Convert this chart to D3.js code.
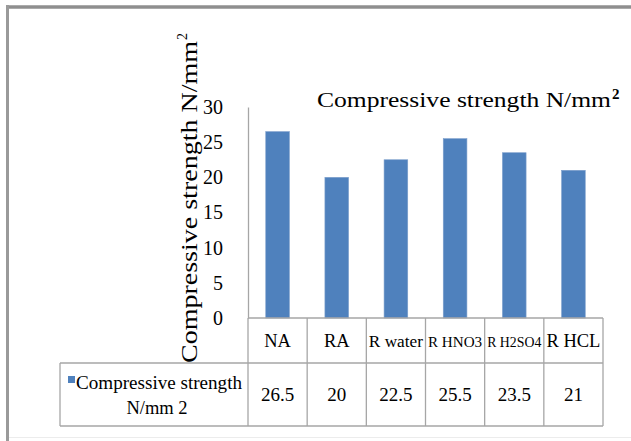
<!DOCTYPE html>
<html>
<head>
<meta charset="utf-8">
<script src="https://cdn.jsdelivr.net/npm/d3@7"></script>
<style>
  html, body { margin: 0; padding: 0; background: #fff; }
  svg text { font-family: "Liberation Serif", "Times New Roman", serif; fill: #000; }
</style>
</head>
<body>
<svg id="chart" width="631" height="441"></svg>
<script>
// ---- data ----
const categories = ["NA", "RA", "R water", "R HNO3", "R H2SO4", "R HCL"];
const values = [26.5, 20, 22.5, 25.5, 23.5, 21];
const valueLabels = ["26.5", "20", "22.5", "25.5", "23.5", "21"];
const yTicks = [0, 5, 10, 15, 20, 25, 30];
const seriesName = ["Compressive strength", "N/mm 2"];
const titleText = "Compressive strength N/mm";
const yTitleText = "Compressive strength N/mm";

const svg = d3.select("#chart");
const barColor = "#4f81bd";
const gridGray = "#a6a6a6";

// frame
svg.append("rect").attr("x", 0).attr("y", 0).attr("width", 631).attr("height", 441).attr("fill", "#fff");
svg.append("line").attr("x1", 6).attr("x2", 631).attr("y1", 7).attr("y2", 7)
  .attr("stroke", "#8f8f8f").attr("stroke-width", 3.5);
svg.append("line").attr("x1", 7.5).attr("x2", 7.5).attr("y1", 5).attr("y2", 441)
  .attr("stroke", "#9a9a9a").attr("stroke-width", 3);
svg.append("line").attr("x1", 9).attr("x2", 631).attr("y1", 437.5).attr("y2", 437.5)
  .attr("stroke", "#ececec").attr("stroke-width", 1);

// scales
const plotLeft = 248, plotRight = 603, zeroY = 318, topY = 107;
const x = d3.scaleBand().domain(categories).range([plotLeft, plotRight]).padding(0);
const y = d3.scaleLinear().domain([0, 30]).range([zeroY, topY]);
const barW = x.bandwidth() * 0.4;

// bars
svg.append("g").selectAll("rect").data(categories).join("rect")
  .attr("x", (d) => x(d) + (x.bandwidth() - barW) / 2)
  .attr("y", (d, i) => y(values[i]))
  .attr("width", barW)
  .attr("height", (d, i) => y(0) - y(values[i]))
  .attr("fill", barColor)
  .attr("stroke", "#7d9fcc").attr("stroke-width", 0.6);

// y axis
const yAxis = d3.axisLeft(y).tickValues(yTicks).tickSize(0).tickPadding(25).tickFormat(d3.format("d"));
const ga = svg.append("g").attr("transform", `translate(${plotLeft},0)`).call(yAxis);
ga.select(".domain").attr("stroke", gridGray).attr("stroke-width", 1.3);
ga.selectAll(".tick text").attr("font-size", 20).attr("font-family", "Liberation Serif").attr("fill", "#000");

// data table
const tbl = svg.append("g").attr("stroke", gridGray).attr("stroke-width", 1.3).attr("fill", "none");
const headTop = zeroY, headBot = 363, rowBot = 426, legLeft = 60;
tbl.append("line").attr("x1", plotLeft).attr("x2", plotRight).attr("y1", headTop).attr("y2", headTop);
tbl.append("line").attr("x1", legLeft).attr("x2", plotRight).attr("y1", headBot).attr("y2", headBot);
tbl.append("line").attr("x1", legLeft).attr("x2", plotRight).attr("y1", rowBot).attr("y2", rowBot);
tbl.append("line").attr("x1", legLeft).attr("x2", legLeft).attr("y1", headBot).attr("y2", rowBot);
const edges = categories.map((c) => x(c)).concat([plotRight]);
tbl.selectAll("line.v").data(edges).join("line").attr("class", "v")
  .attr("x1", (d) => d).attr("x2", (d) => d).attr("y1", headTop).attr("y2", rowBot);

// header labels (font reduced when wider than the cell)
const heads = svg.append("g").selectAll("text").data(categories).join("text")
  .attr("x", (d) => x(d) + x.bandwidth() / 2)
  .attr("y", 347)
  .attr("text-anchor", "middle")
  .attr("font-size", 18.5)
  .text((d) => d);
heads.each(function () {
  const w = this.getComputedTextLength();
  const maxW = x.bandwidth() - 5;
  if (w > maxW) d3.select(this).attr("font-size", 18.5 * maxW / w);
});

// values row
svg.append("g").selectAll("text").data(valueLabels).join("text")
  .attr("x", (d, i) => x(categories[i]) + x.bandwidth() / 2)
  .attr("y", 401)
  .attr("text-anchor", "middle")
  .attr("font-size", 19)
  .text((d) => d);

// legend key in table
svg.append("rect").attr("x", 68).attr("y", 376).attr("width", 7).attr("height", 7).attr("fill", barColor);
svg.append("text").attr("x", 76).attr("y", 389).attr("font-size", 18.5)
  .attr("textLength", 166).attr("lengthAdjust", "spacingAndGlyphs").text(seriesName[0]);
svg.append("text").attr("x", 157).attr("y", 414).attr("font-size", 18.5)
  .attr("text-anchor", "middle").text(seriesName[1]);

// chart title
svg.append("text").attr("x", 317).attr("y", 107).attr("font-size", 21)
  .attr("textLength", 294).attr("lengthAdjust", "spacingAndGlyphs").text(titleText);
svg.append("text").attr("x", 612).attr("y", 99).attr("font-size", 15).attr("font-weight", "bold").text("2");

// y axis title
const yt = svg.append("g").attr("transform", "translate(197,363) rotate(-90)");
yt.append("text").attr("x", 0).attr("y", 0).attr("font-size", 24)
  .attr("textLength", 322).attr("lengthAdjust", "spacingAndGlyphs").text(yTitleText);
yt.append("text").attr("x", 323).attr("y", -10).attr("font-size", 14).text("2");
</script>
</body>
</html>
